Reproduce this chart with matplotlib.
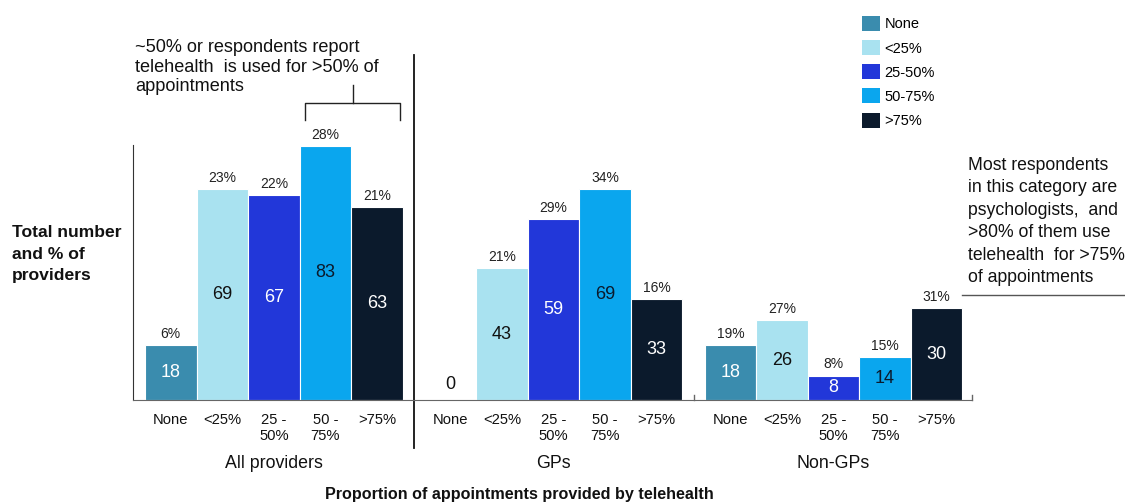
import matplotlib.pyplot as plt
from matplotlib.patches import Patch
import numpy as np

plt.rcParams['font.family'] = ['Liberation Sans', 'DejaVu Sans']

# Data
categories = ["None", "<25%", "25-50%", "50-75%", ">75%"]
tick_labels = ["None", "<25%", "25 -\n50%", "50 -\n75%", ">75%"]
groups = ["All providers", "GPs", "Non-GPs"]

all_counts = [18, 69, 67, 83, 63]
all_pct = [6, 23, 22, 28, 21]
gp_counts = [0, 43, 59, 69, 33]
gp_pct = [None, 21, 29, 34, 16]
nongp_counts = [18, 26, 8, 14, 30]
nongp_pct = [19, 27, 8, 15, 31]

colors = ["#3a8cae", "#a9e2f0", "#2237d9", "#0aa6ee", "#0b1a2c"]
inner_text = ["white", "#111111", "white", "#0b1a2c", "white"]

counts = [all_counts, gp_counts, nongp_counts]
pcts = [all_pct, gp_pct, nongp_pct]

W, H = 1125, 504
fig = plt.figure(figsize=(W / 100, H / 100), dpi=100)
ax = fig.add_axes([133 / W, 1 - 400 / H, (972 - 133) / W, 345 / H])

group_step = 5.43
for g in range(len(groups)):
    x = g * group_step + np.arange(len(categories))
    bars = ax.bar(x, counts[g], width=1.0, color=colors, edgecolor="white", linewidth=0.8)
    for i, bar in enumerate(bars):
        v = counts[g][i]
        cx = bar.get_x() + bar.get_width() / 2
        if v > 0:
            ax.text(cx, v / 2, str(v), ha="center", va="center", fontsize=13, color=inner_text[i])
        else:
            ax.text(cx, 5, "0", ha="center", va="center", fontsize=13, color="#111111")
        p = pcts[g][i]
        if p is not None:
            ax.annotate(f"{p}%", (cx, v), xytext=(0, 3), textcoords="offset points",
                        ha="center", va="bottom", fontsize=10, color="#222222")
    # group label
    fig.text((133 + (g * group_step + 2 + 0.733) * 51.5) / W, 1 - 463 / H, groups[g],
             ha="center", va="center", fontsize=12.8, color="#111111")

all_x = np.concatenate([g * group_step + np.arange(len(categories)) for g in range(len(groups))])
ax.set_xticks(all_x)
ax.set_xticklabels(tick_labels * len(groups), fontsize=10.6, linespacing=1.25, color="#111111")
ax.tick_params(axis="x", length=0, pad=9)
ax.set_yticks([])

ax.set_xlim(-0.733, 15.55)
ax.set_ylim(0, 112.7)

for s in ["top", "right"]:
    ax.spines[s].set_visible(False)
ax.spines["left"].set_bounds(0, 83.3)
ax.spines["left"].set_color("#333333")
ax.spines["bottom"].set_color("#666666")

# small boundary ticks
for bx in [10.145, 15.55]:
    ax.plot([bx, bx], [0, 1.5], color="#666666", lw=1, clip_on=False)

# divider between All providers and GPs
div_x = (4.5 + group_step - 0.5) / 2
ax.plot([div_x, div_x], [-0.139, 1.0], color="#111111", lw=1.3,
        transform=ax.get_xaxis_transform(), clip_on=False)

# bracket over 50-75% and >75%
bl, br, by = 2.6, 4.45, 97
ax.plot([bl, bl, br, br], [91.5, by, by, 91.5], color="#222222", lw=1, clip_on=False)
ax.plot([3.54, 3.54], [by, 103], color="#222222", lw=1, clip_on=False)

fig.text(135 / W, 1 - 39 / H,
         "~50% or respondents report\ntelehealth  is used for >50% of\nappointments",
         ha="left", va="top", fontsize=13.1, linespacing=1.2, color="#111111")

fig.text(968 / W, 1 - 157 / H,
         "Most respondents\nin this category are\npsychologists,  and\n>80% of them use\ntelehealth  for >75%\nof appointments",
         ha="left", va="top", fontsize=12.7, linespacing=1.42, color="#111111")
fig.add_artist(plt.Line2D([962 / W, 1.0], [1 - 295 / H, 1 - 295 / H], color="#555555", lw=1))

fig.text(12 / W, 1 - 225 / H, "Total number\nand % of\nproviders", ha="left", va="top",
         fontsize=12.6, fontweight="bold", linespacing=1.56, color="#111111")

fig.text(519 / W, 1 - 494 / H, "Proportion of appointments provided by telehealth",
         ha="center", va="center", fontsize=11.6, fontweight="bold", color="#111111")

handles = [Patch(facecolor=c, edgecolor="none") for c in colors]
leg = fig.legend(handles, ["None", "<25%", "25-50%", "50-75%", ">75%"],
                 loc="upper left", bbox_to_anchor=(862 / W, 1 - 16 / H),
                 frameon=False, fontsize=10.5, handlelength=1.2, handleheight=1.2,
                 handletextpad=0.35, labelspacing=0.6, borderpad=0, borderaxespad=0)

fig.savefig("out.png", dpi=100)
